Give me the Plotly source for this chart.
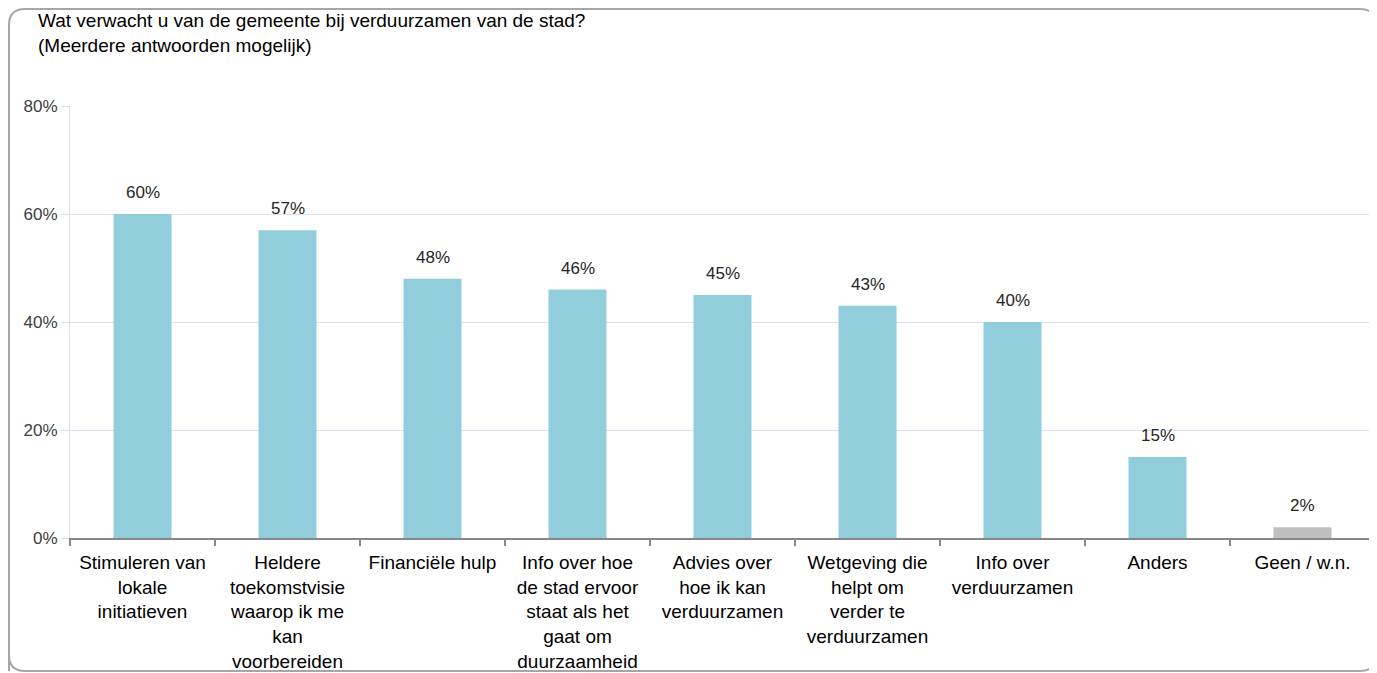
import plotly.graph_objects as go

# data
categories = [
    'Stimuleren van<br>lokale<br>initiatieven',
    'Heldere<br>toekomstvisie<br>waarop ik me<br>kan<br>voorbereiden',
    'Financiële hulp',
    'Info over hoe<br>de stad ervoor<br>staat als het<br>gaat om<br>duurzaamheid',
    'Advies over<br>hoe ik kan<br>verduurzamen',
    'Wetgeving die<br>helpt om<br>verder te<br>verduurzamen',
    'Info over<br>verduurzamen',
    'Anders',
    'Geen / w.n.',
]
percentages = [60, 57, 48, 46, 45, 43, 40, 15, 2]
bar_colors = ['#92CDDC'] * 8 + ['#BFBFBF']
title_text = ('Wat verwacht u van de gemeente bij verduurzamen van de stad?'
              '<br>(Meerdere antwoorden mogelijk)')

# the page body has an 8px margin, so the figure is a bit smaller than the window
OFF = 8
W, H = 1377 - OFF, 673 - OFF
ML, MR, MT, MB = 62, 2, 98, 135
PW, PH = W - ML - MR, H - MT - MB
FONT = 'Liberation Sans, Arial, sans-serif'


def px(x):
    # page pixel -> paper coordinate
    return (x - OFF - ML) / PW


def py(y):
    return (H - MB - (y - OFF)) / PH


fig = go.Figure()
fig.add_trace(go.Bar(
    x=categories,
    y=percentages,
    marker=dict(color=bar_colors, line=dict(width=0)),
    hoverinfo='x+y',
))

# data labels above the bars
for cat, val in zip(categories, percentages):
    fig.add_annotation(
        x=cat, y=val, text=f'{val}%', showarrow=False,
        xref='x', yref='y', yanchor='bottom', yshift=10,
        font=dict(family=FONT, size=17, color='#262626'),
    )

# title
fig.add_annotation(
    text=title_text, showarrow=False, align='left',
    xref='paper', yref='paper', x=px(36), y=py(8),
    xanchor='left', yanchor='top',
    font=dict(family=FONT, size=19, color='#000000'),
)

# rounded frame round the chart
x0, x1, y0, y1, r = 9, 1376, 9, 671, 16
path = (
    f'M {px(x0)},{py(y1)} '
    f'L {px(x0)},{py(y0 + r)} '
    f'Q {px(x0)},{py(y0)} {px(x0 + r)},{py(y0)} '
    f'L {px(x1 - r)},{py(y0)} '
    f'Q {px(x1)},{py(y0)} {px(x1)},{py(y0 + r)} '
    f'L {px(x1)},{py(y1 - r)} '
    f'Q {px(x1)},{py(y1)} {px(x1 - r)},{py(y1)} '
    f'L {px(x0 + r)},{py(y1)} '
    f'Q {px(x0)},{py(y1)} {px(x0)},{py(y1 - r)} Z'
)
fig.add_shape(type='path', path=path, xref='paper', yref='paper',
              line=dict(color='#A6A6A6', width=2), layer='below')

fig.update_layout(
    width=W, height=H,
    margin=dict(l=ML, r=MR, t=MT, b=MB, pad=0),
    plot_bgcolor='white', paper_bgcolor='white',
    bargap=0.6,
    showlegend=False,
    font=dict(family=FONT, size=19, color='#000000'),
    xaxis=dict(
        type='category',
        tickson='boundaries',
        ticks='outside', ticklen=6, tickwidth=2, tickcolor='#878787',
        showline=True, linecolor='#878787', linewidth=2,
        showgrid=False,
        tickfont=dict(family=FONT, size=19, color='#000000'),
        ticklabelstandoff=6,
        fixedrange=True,
    ),
    yaxis=dict(
        range=[0, 80], dtick=20, ticksuffix='%',
        ticks='outside', ticklen=8, tickcolor='#D9E1F0',
        showgrid=True, gridcolor='#D9E1F0', gridwidth=1,
        showline=True, linecolor='#D9E1F0', linewidth=1,
        zeroline=False,
        tickfont=dict(family=FONT, size=17, color='#404040'),
        fixedrange=True,
    ),
)

fig.write_html('out.html')
